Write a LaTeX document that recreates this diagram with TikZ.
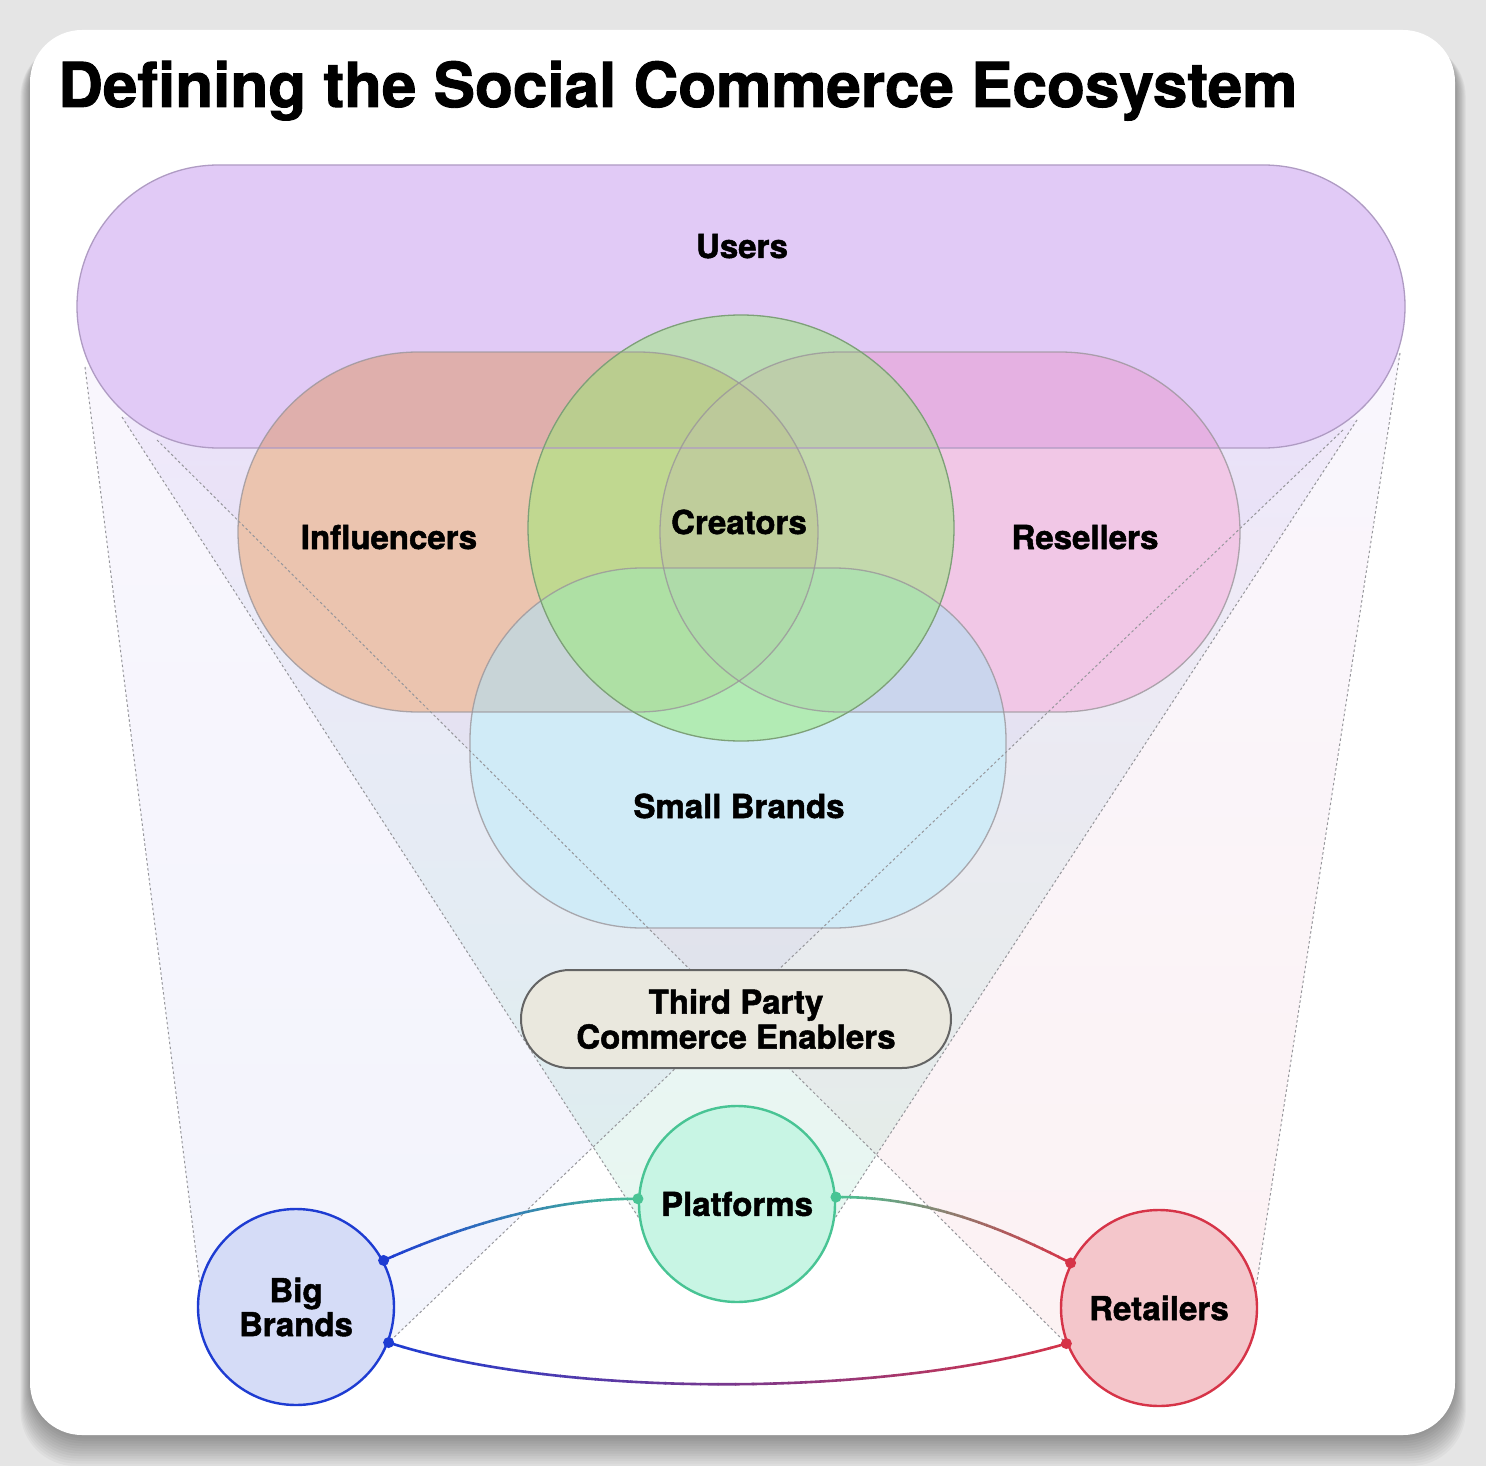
\documentclass[tikz,border=0pt]{standalone}
\usepackage{fontspec}
\setmainfont{TeX Gyre Heros}[BoldFeatures={FakeBold=1.5}]
\usetikzlibrary{shapes.misc}
\pgfdeclarelayer{card}
\pgfdeclarelayer{cones}
\pgfdeclarelayer{venn}
\pgfsetlayers{card,cones,venn,main}

\definecolor{bgGray}{RGB}{229,229,229}
\definecolor{usersC}{RGB}{201,160,240}
\definecolor{usersEdge}{RGB}{175,155,195}
\definecolor{inflC}{RGB}{223,157,123}
\definecolor{reselC}{RGB}{232,160,212}
\definecolor{smallC}{RGB}{177,223,243}
\definecolor{creatC}{RGB}{150,236,115}
\definecolor{creatEdge}{RGB}{125,160,120}
\definecolor{edgeGray}{RGB}{155,150,155}
\definecolor{dotGray}{RGB}{150,150,155}
\definecolor{tpFill}{RGB}{234,232,222}
\definecolor{tpEdge}{RGB}{100,100,100}
\definecolor{platFill}{RGB}{200,245,228}
\definecolor{platEdge}{RGB}{72,196,148}
\definecolor{bbFill}{RGB}{213,220,247}
\definecolor{bbEdge}{RGB}{30,60,210}
\definecolor{retFill}{RGB}{244,198,203}
\definecolor{retEdge}{RGB}{214,52,72}
\definecolor{lav}{RGB}{185,150,240}

\tikzset{
  lbl/.style={font=\fontsize{33}{35}\selectfont\bfseries, text=black, inner sep=0pt, anchor=base},
  ring/.style={circle, minimum size=196pt, inner sep=0pt, line width=2.4pt,
    font=\fontsize{33}{34}\selectfont\bfseries, align=center},
  conn/.style={line width=2.6pt},
  dotline/.style={draw=dotGray, line width=1pt, dash pattern=on 2.5pt off 2.5pt},
  vennedge/.style={draw=edgeGray, line width=1.3pt, draw opacity=0.8},
}

\begin{document}
\begin{tikzpicture}[x=1pt,y=-1pt]
\useasboundingbox (0,0) rectangle (1486,1466);

% ---------- card ----------
\begin{pgfonlayer}{card}
  \fill[bgGray] (0,0) rectangle (1486,1466);
  \foreach \k in {1,...,12}{
    \fill[black, opacity=0.03, rounded corners=55pt]
      ({30-\k*0.8},{36+\k*0.5}) rectangle ({1455+\k*0.9},{1436+\k*2.5});
  }
  \fill[white, rounded corners=52pt] (30,30) rectangle (1455,1435);
\end{pgfonlayer}

% ---------- title ----------
\node[anchor=base west, inner sep=0pt, font=\fontsize{62}{62}\selectfont\bfseries] (title)
  at (58,107) {Defining the Social Commerce Ecosystem};

% ---------- bottom nodes ----------
\node[ring, fill=bbFill, draw=bbEdge] (bb) at (296,1307) {Big\\Brands};
\node[ring, fill=platFill, draw=platEdge] (pl) at (737,1204) {Platforms};
\node[ring, fill=retFill, draw=retEdge] (ret) at (1159,1308) {Retailers};
\node[rounded rectangle, minimum width=430pt, minimum height=98pt, inner sep=0pt,
  fill=tpFill, draw=tpEdge, line width=2pt, align=center,
  font=\fontsize{33}{35}\selectfont\bfseries] (tp) at (736,1019) {Third Party\\Commerce Enablers};

% ---------- points on the Users outline ----------
\coordinate (ua) at (85,367);
\coordinate (ub) at (122,417);
\coordinate (uc) at (157,440);
\coordinate (ua2) at (1400,353);
\coordinate (ub2) at (1357,420);
\coordinate (uc2) at (1343,430);

% ---------- cones ----------
\begin{pgfonlayer}{cones}
  \shade[top color=lav, bottom color=bbEdge!70, fill opacity=0.08]
    (ua) -- (uc2) -- (bb.-21) -- (bb.center) -- (bb.166) -- cycle;
  \shade[top color=lav, bottom color=retEdge!80, fill opacity=0.08]
    (uc) -- (ua2) -- (ret.12) -- (ret.center) -- (ret.-159) -- cycle;
  \shade[top color=lav, bottom color=platEdge, fill opacity=0.13]
    (ub) -- (ub2) -- (pl.-8) -- (pl.center) -- (pl.-172) -- cycle;
\end{pgfonlayer}

% ---------- Venn shapes ----------
\begin{pgfonlayer}{venn}
  % opaque white base so the cones do not tint the sets
  \fill[white, rounded corners=141.5pt] (77,165) rectangle (1405,448);
  \fill[white, rounded corners=180pt] (238,352) rectangle (818,712);
  \fill[white, rounded corners=180pt] (660,352) rectangle (1240,712);
  \fill[white, rounded corners=172pt] (470,568) rectangle (1006,928);
  \fill[white] (741,528) circle[radius=213pt];

  \fill[usersC, fill opacity=0.55, rounded corners=141.5pt] (77,165) rectangle (1405,448);
  \fill[inflC, fill opacity=0.6, rounded corners=180pt] (238,352) rectangle (818,712);
  \fill[reselC, fill opacity=0.58, rounded corners=180pt] (660,352) rectangle (1240,712);
  \fill[smallC, fill opacity=0.6, rounded corners=172pt] (470,568) rectangle (1006,928);
  \fill[creatC, fill opacity=0.5] (741,528) circle[radius=213pt];

  \draw[draw=usersEdge, line width=1.3pt, rounded corners=141.5pt] (77,165) rectangle (1405,448);
  \draw[vennedge, rounded corners=180pt] (238,352) rectangle (818,712);
  \draw[vennedge, rounded corners=180pt] (660,352) rectangle (1240,712);
  \draw[vennedge, rounded corners=172pt] (470,568) rectangle (1006,928);
  \draw[draw=creatEdge, line width=1.3pt] (741,528) circle[radius=213pt];

  \draw[dotline] (ua) -- (bb.166);
  \draw[dotline] (ub) -- (pl.-172);
  \draw[dotline] (uc) -- (ret.-159);
  \draw[dotline] (ua2) -- (ret.12);
  \draw[dotline] (ub2) -- (pl.-8);
  \draw[dotline] (uc2) -- (bb.-21);
\end{pgfonlayer}

% ---------- Venn labels ----------
\node[lbl] (tUsers) at (742,258) {Users};
\node[lbl] (tInfl) at (389,549) {Influencers};
\node[lbl] (tCreat) at (739,534) {Creators};
\node[lbl] (tResel) at (1085,549) {Resellers};
\node[lbl] (tSmall) at (739,818) {Small Brands};

% ---------- gradient connectors ----------
\foreach \i in {0,...,29}{
  \pgfmathsetmacro\xa{384+\i*9}
  \pgfmathsetmacro\xb{\xa+10}
  \pgfmathtruncatemacro\p{100-\i*100/29}
  \begin{scope}
    \clip (\xa,1150) rectangle (\xb,1290);
    \draw[conn, color=bbEdge!\p!platEdge] (bb.28) .. controls (470,1222) and (560,1198) .. (pl.177);
  \end{scope}
}
\foreach \i in {0,...,29}{
  \pgfmathsetmacro\xa{834+\i*8}
  \pgfmathsetmacro\xb{\xa+9}
  \pgfmathtruncatemacro\p{100-\i*100/29}
  \begin{scope}
    \clip (\xa,1150) rectangle (\xb,1290);
    \draw[conn, color=platEdge!\p!retEdge] (pl.4) .. controls (930,1196) and (1010,1232) .. (ret.153);
  \end{scope}
}
\foreach \i in {0,...,39}{
  \pgfmathsetmacro\xa{385+\i*17.5}
  \pgfmathsetmacro\xb{\xa+18.5}
  \pgfmathtruncatemacro\p{100-\i*100/39}
  \begin{scope}
    \clip (\xa,1320) rectangle (\xb,1420);
    \draw[conn, color=bbEdge!\p!retEdge] (bb.-21) .. controls (560,1398) and (880,1398) .. (ret.-159);
  \end{scope}
}

% ---------- connector end dots ----------
\fill[bbEdge] (bb.28) circle[radius=5.5pt];
\fill[bbEdge] (bb.-21) circle[radius=5.5pt];
\fill[platEdge] (pl.177) circle[radius=5.5pt];
\fill[platEdge] (pl.4) circle[radius=5.5pt];
\fill[retEdge] (ret.153) circle[radius=5.5pt];
\fill[retEdge] (ret.-159) circle[radius=5.5pt];
\end{tikzpicture}
\end{document}
